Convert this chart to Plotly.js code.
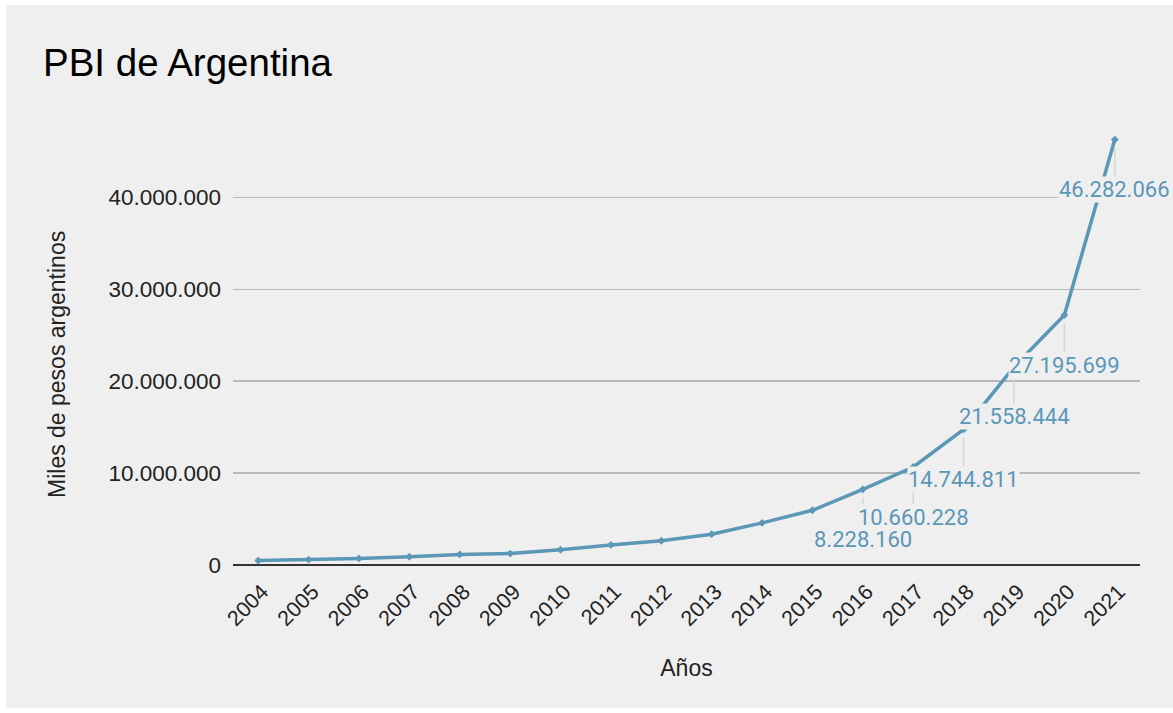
<!DOCTYPE html>
<html>
<head>
<meta charset="utf-8">
<script src="https://cdn.plot.ly/plotly-3.0.1.min.js"></script>
<style>
  html, body { margin: 0; padding: 0; background: #ffffff; }
  #chart { position: absolute; left: 6px; top: 5px; width: 1167px; height: 703px; }
</style>
</head>
<body>
<div id="chart"></div>
<script>
// Data (thousands of Argentine pesos)
const years = ["2004","2005","2006","2007","2008","2009","2010","2011","2012","2013",
               "2014","2015","2016","2017","2018","2019","2020","2021"];
const gdp = [485115, 582538, 715904, 896980, 1149646, 1247929, 1661721, 2179024, 2637914, 3348308,
             4579086, 5954511, 8228160, 10660228, 14744811, 21558444, 27195699, 46282066];
const labeledYears = ["2016","2017","2018","2019","2020","2021"];
const yTicks = [0, 10000000, 20000000, 30000000, 40000000];

const chartTitle = "PBI de Argentina";
const xTitle = "Años";
const yTitle = "Miles de pesos argentinos";

const lineColor = "#5b97b7";
const arial = "'Liberation Sans', Arial, sans-serif";
const roboto = "Roboto, 'Liberation Sans', Arial, sans-serif";

function fmt(n) {
  return String(Math.round(n)).replace(/\B(?=(\d{3})+(?!\d))/g, ".");
}

const trace = {
  type: "scatter",
  mode: "lines+markers",
  x: years,
  y: gdp,
  line: { color: lineColor, width: 3.5 },
  marker: { color: lineColor, size: 6, symbol: "diamond" },
  hoverinfo: "x+y"
};

const annotations = labeledYears.map(function (yr) {
  const i = years.indexOf(yr);
  return {
    x: i, y: gdp[i], xref: "x", yref: "y",
    text: fmt(gdp[i]),
    showarrow: true, arrowhead: 0, arrowwidth: 1.5, arrowcolor: "#d6d6d6",
    ax: 0, ay: 50, standoff: 8,
    bgcolor: "#efefef", borderpad: 0,
    font: { family: roboto, size: 22, color: lineColor }
  };
});

annotations.push({
  xref: "paper", yref: "paper",
  x: (51 - 227) / 907, y: 1 - (360 - 128) / 432,
  xanchor: "center", yanchor: "middle",
  textangle: -90, showarrow: false,
  text: yTitle,
  font: { family: arial, size: 23, color: "#222222" }
});

const layout = {
  paper_bgcolor: "#efefef",
  plot_bgcolor: "#efefef",
  separators: ",.",
  showlegend: false,
  margin: { l: 227, r: 33, t: 128, b: 143 },
  title: {
    text: chartTitle,
    xref: "container", yref: "container",
    x: 37 / 1167, xanchor: "left",
    y: 1 - 58 / 703, yanchor: "middle",
    font: { family: arial, size: 38.5, color: "#000000" }
  },
  xaxis: {
    type: "category",
    range: [-0.5, 17.5],
    tickangle: -45,
    showgrid: false,
    showline: false,
    zeroline: false,
    ticks: "",
    ticklabelstandoff: 9,
    ticklabelshift: 4,
    tickfont: { family: arial, size: 21.5, color: "#222222" },
    title: {
      text: xTitle, standoff: 30,
      font: { family: arial, size: 23, color: "#222222" }
    }
  },
  yaxis: {
    range: [0, 47000000],
    tickvals: yTicks,
    ticktext: yTicks.map(fmt),
    showgrid: true,
    gridcolor: "#b9b9b9",
    gridwidth: 1.5,
    zeroline: true,
    zerolinecolor: "#333333",
    zerolinewidth: 2,
    showline: false,
    ticks: "",
    ticklabelstandoff: 11,
    tickfont: { family: arial, size: 22.5, color: "#222222" }
  },
  annotations: annotations
};

Plotly.newPlot("chart", [trace], layout, { displayModeBar: false, staticPlot: true });
</script>
</body>
</html>
